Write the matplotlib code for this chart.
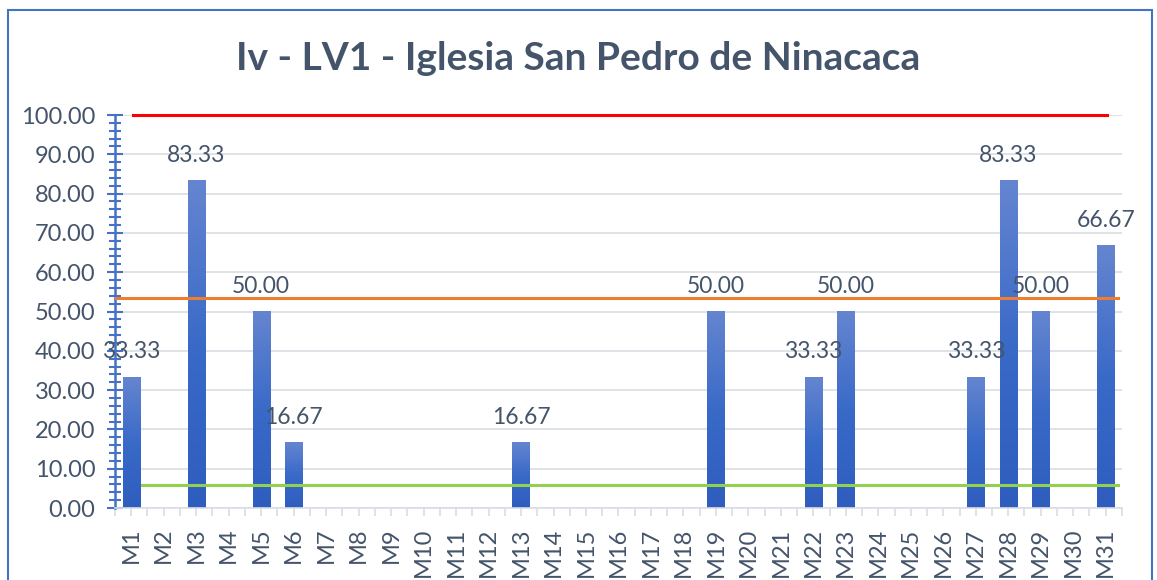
import numpy as np
import matplotlib.pyplot as plt
from matplotlib.patches import Rectangle
from matplotlib.colors import LinearSegmentedColormap

plt.rcParams['font.family'] = ['Lato', 'DejaVu Sans']

meses = ['M%d' % i for i in range(1, 32)]
valores = [33.33, 0, 83.33, 0, 50.00, 16.67, 0, 0, 0, 0, 0, 0, 16.67, 0, 0, 0, 0, 0,
           50.00, 0, 0, 33.33, 50.00, 0, 0, 0, 33.33, 83.33, 50.00, 0, 66.67]
limite_sup = 100.0
promedio = 53.5
limite_inf = 5.8

texto = '#44546A'
azul = '#4472C4'

fig = plt.figure(figsize=(11.57, 5.8), dpi=100)
ax = fig.add_axes([0.0994, 0.1241, 0.8703, 0.6776])

x = np.arange(len(meses))
ancho = 0.53
cmap = LinearSegmentedColormap.from_list('barra', ['#2E5DBE', '#3A6AC8', '#6585D0'])
grad = np.linspace(0, 1, 256).reshape(-1, 1)
for xi, v in zip(x, valores):
    if v <= 0:
        continue
    ax.imshow(grad, cmap=cmap, aspect='auto', origin='lower',
              extent=(xi - ancho / 2, xi + ancho / 2, 0, v), zorder=2)
    ax.text(xi, v + 6.4, '%.2f' % v, ha='center', va='center', fontsize=16.5,
            color=texto, zorder=4)

ax.plot([0.05, 30.05], [limite_sup] * 2, color='#FF0000', lw=2.2, zorder=3, clip_on=False)
ax.plot([-0.5, 30.37], [promedio] * 2, color='#ED7D31', lw=2.2, zorder=3)
ax.plot([0.33, 30.37], [limite_inf] * 2, color='#92D050', lw=2.2, zorder=3)

ax.set_xlim(-0.5, 30.5)
ax.set_ylim(0, 100)
ax.set_yticks(np.arange(0, 101, 10))
ax.set_yticklabels(['%.2f' % t for t in np.arange(0, 101, 10)])
ax.set_yticks(np.arange(0, 101, 2), minor=True)
ax.yaxis.grid(True, color='#D9DDE3', lw=1.2, zorder=0)
ax.set_axisbelow(True)

ax.set_xticks(x)
ax.set_xticklabels(meses, rotation=90)
ax.set_xticks(np.arange(-0.5, 31, 1), minor=True)

ax.tick_params(axis='y', which='major', direction='inout', length=12, width=1.5,
               color=azul, labelsize=17, labelcolor=texto, pad=8)
ax.tick_params(axis='y', which='minor', direction='inout', length=8, width=1.5, color=azul)
ax.tick_params(axis='x', which='both', direction='out', length=6, width=1.2,
               color='#D9DDE3', labelsize=17, labelcolor=texto, pad=8)

for lado in ['top', 'right']:
    ax.spines[lado].set_visible(False)
ax.spines['left'].set_color(azul)
ax.spines['left'].set_linewidth(1.8)
ax.spines['bottom'].set_color('#D9DDE3')
ax.spines['bottom'].set_linewidth(1.2)

fig.text(0.5, 0.90, 'Iv - LV1 - Iglesia San Pedro de Ninacaca', ha='center', va='center',
         fontsize=28, fontweight='bold', color=texto)

fig.patches.append(Rectangle((8 / 1157, -0.01), 1144 / 1157, 1 - 10 / 580 + 0.01,
                             transform=fig.transFigure, fill=False, ec=azul, lw=1.5))

fig.savefig('out.png', dpi=100)
